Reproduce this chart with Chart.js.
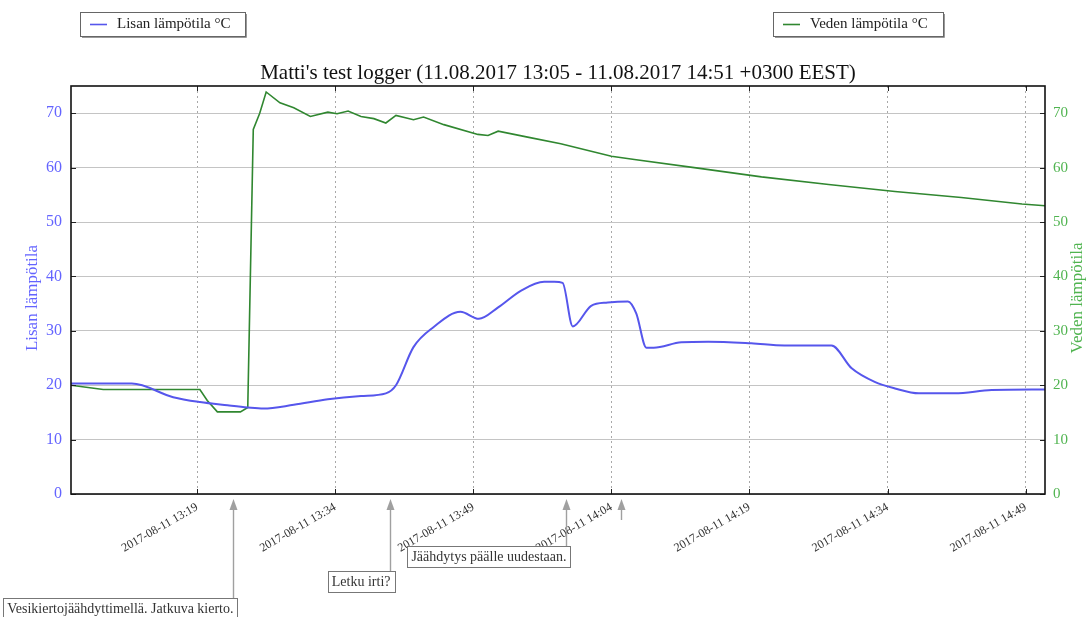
<!DOCTYPE html>
<html>
<head>
<meta charset="utf-8">
<title>Matti's test logger</title>
<script src="https://cdn.jsdelivr.net/npm/chart.js@4.4.1/dist/chart.umd.min.js"></script>
<style>
  html, body { margin: 0; padding: 0; background: #ffffff; }
  #wrap { width: 1089px; height: 617px; position: relative; }
</style>
</head>
<body>
<div id="wrap"><canvas id="chart" width="1089" height="617"></canvas></div>
<script>
// Time values are minutes after 13:00 on 2017-08-11.
const lisaMinutes = [5.3, 11.9, 16.4, 19.3, 22.3, 24.5, 26.2, 29.5, 33.2, 36.8, 39.5, 40.6, 42.5, 44.7, 47.6, 49.6, 51.7, 54.2, 56.7, 57.8, 58.7, 59.8, 61.8, 63.6, 65.8, 66.7, 67.8, 68.6, 71.6, 74.5, 79.2, 82.8, 87.9, 90.1, 92.6, 94.8, 97.4, 101.3, 105.3, 111.1];
const lisaTemps   = [20.3, 20.3, 17.8, 16.9, 16.3, 15.9, 15.7, 16.4, 17.4, 18.0, 18.5, 20.0, 27.0, 30.7, 33.5, 32.2, 34.3, 37.4, 39.0, 39.0, 38.8, 30.8, 34.6, 35.2, 35.4, 33.2, 26.9, 26.9, 27.9, 28.0, 27.7, 27.3, 27.3, 23.1, 20.6, 19.4, 18.5, 18.5, 19.1, 19.2];

const vesiMinutes = [5.3, 8.8, 19.3, 20.1, 21.2, 23.7, 24.5, 25.1, 25.8, 26.5, 28.0, 29.5, 31.3, 33.2, 34.2, 35.4, 36.8, 38.2, 39.5, 40.6, 42.5, 43.6, 45.8, 49.5, 50.6, 51.7, 54.9, 58.5, 64.0, 66.5, 73.0, 80.3, 87.6, 94.8, 102.0, 108.6, 111.1];
const vesiTemps   = [20.0, 19.2, 19.2, 17.2, 15.1, 15.1, 15.9, 67.0, 70.0, 73.9, 71.9, 71.0, 69.4, 70.2, 69.9, 70.4, 69.4, 69.0, 68.2, 69.6, 68.8, 69.3, 67.9, 66.1, 65.9, 66.7, 65.6, 64.4, 62.1, 61.5, 60.0, 58.3, 56.9, 55.6, 54.5, 53.3, 53.0];

const xTickMinutes = [19, 34, 49, 64, 79, 94, 109];
const xTickLabels  = ['2017-08-11 13:19', '2017-08-11 13:34', '2017-08-11 13:49', '2017-08-11 14:04', '2017-08-11 14:19', '2017-08-11 14:34', '2017-08-11 14:49'];
const yTickValues  = [0, 10, 20, 30, 40, 50, 60, 70];

// Notes written under the time axis, with an arrow up to the moment they refer to.
const noteMinutes = [22.9, 40.0, 59.05, 65.0];
const noteTexts   = ['Vesikiertojäähdyttimellä. Jatkuva kierto.', 'Letku irti?', 'Jäähdytys päälle uudestaan.', ''];

const titleText = "Matti's test logger (11.08.2017 13:05 - 11.08.2017 14:51 +0300 EEST)";

const SERIF = "'Liberation Serif', 'DejaVu Serif', serif";
const BLUE = 'rgb(86, 86, 236)';
const GREEN = 'rgb(48, 135, 48)';
const BLUE_TEXT = 'rgb(100, 100, 255)';
const GREEN_TEXT = 'rgb(80, 180, 80)';

function toPoints(xs, ys) {
  return xs.map((x, i) => ({ x: x, y: ys[i] }));
}

const decorations = {
  id: 'decorations',
  afterDatasetsDraw(chart) {
    const { ctx, chartArea: a, scales } = chart;
    ctx.save();
    // inward tick marks on all four sides
    ctx.strokeStyle = '#222';
    ctx.lineWidth = 1;
    ctx.beginPath();
    scales.x.ticks.forEach(t => {
      const px = Math.round(scales.x.getPixelForValue(t.value)) + 0.5;
      ctx.moveTo(px, a.bottom); ctx.lineTo(px, a.bottom - 5);
      ctx.moveTo(px, a.top); ctx.lineTo(px, a.top + 5);
    });
    scales.y.ticks.forEach(t => {
      const py = Math.round(scales.y.getPixelForValue(t.value)) + 0.5;
      ctx.moveTo(a.left, py); ctx.lineTo(a.left + 5, py);
      ctx.moveTo(a.right, py); ctx.lineTo(a.right - 5, py);
    });
    ctx.stroke();
    // frame
    ctx.strokeStyle = '#111';
    ctx.lineWidth = 1.6;
    ctx.strokeRect(a.left, a.top, a.right - a.left, a.bottom - a.top);
    ctx.restore();
  },
  afterDraw(chart, args, opts) {
    const { ctx, chartArea: a, scales } = chart;
    ctx.save();

    // title
    ctx.fillStyle = '#111';
    ctx.font = '21px ' + SERIF;
    ctx.textAlign = 'center';
    ctx.textBaseline = 'alphabetic';
    ctx.fillText(titleText, (a.left + a.right) / 2, a.top - 7);

    // axis titles, both reading bottom to top
    ctx.font = '17px ' + SERIF;
    const midY = (a.top + a.bottom) / 2 + 8;
    [[opts.leftTitleX, chart.data.datasets[0].axisTitle, BLUE_TEXT],
     [opts.rightTitleX, chart.data.datasets[1].axisTitle, GREEN_TEXT]].forEach(([x, txt, col]) => {
      ctx.save();
      ctx.translate(x, midY);
      ctx.rotate(-Math.PI / 2);
      ctx.fillStyle = col;
      ctx.textAlign = 'center';
      ctx.textBaseline = 'middle';
      ctx.fillText(txt, 0, 0);
      ctx.restore();
    });

    // one legend box per series
    ctx.font = '15px ' + SERIF;
    ctx.textBaseline = 'middle';
    ctx.textAlign = 'left';
    chart.data.datasets.forEach((ds, i) => {
      const box = opts.legendBoxes[i];
      ctx.fillStyle = '#fff';
      ctx.fillRect(box.x, box.y, box.w, box.h);
      ctx.strokeStyle = '#666';
      ctx.lineWidth = 1;
      ctx.strokeRect(box.x + 0.5, box.y + 0.5, box.w, box.h);
      ctx.strokeStyle = '#999';
      ctx.beginPath();
      ctx.moveTo(box.x + 2, box.y + box.h + 1.5); ctx.lineTo(box.x + box.w + 1.5, box.y + box.h + 1.5);
      ctx.lineTo(box.x + box.w + 1.5, box.y + 2);
      ctx.stroke();
      const cy = box.y + box.h / 2 + 0.5;
      ctx.strokeStyle = ds.borderColor;
      ctx.lineWidth = 1.6;
      ctx.beginPath();
      ctx.moveTo(box.x + 10, cy); ctx.lineTo(box.x + 27, cy);
      ctx.stroke();
      ctx.fillStyle = '#222';
      ctx.fillText(ds.label, box.x + 37, cy);
    });

    // notes below the time axis
    ctx.font = '14px ' + SERIF;
    noteMinutes.forEach((m, i) => {
      const px = Math.round(scales.x.getPixelForValue(m)) + 0.5;
      const tipY = a.bottom + 5;
      const tailY = a.bottom + opts.noteDrops[i];
      ctx.strokeStyle = '#a0a0a0';
      ctx.fillStyle = '#a0a0a0';
      ctx.lineWidth = 1.4;
      ctx.beginPath();
      ctx.moveTo(px, tipY + 8); ctx.lineTo(px, tailY);
      ctx.stroke();
      ctx.beginPath();
      ctx.moveTo(px, tipY); ctx.lineTo(px - 4, tipY + 11); ctx.lineTo(px + 4, tipY + 11);
      ctx.closePath();
      ctx.fill();
      const txt = noteTexts[i];
      if (!txt) return;
      const w = ctx.measureText(txt).width;
      const right = px + 4;
      const bx = right - w - 8, by = tailY, bh = 21;
      ctx.fillStyle = '#fff';
      ctx.fillRect(bx, by, w + 8, bh);
      ctx.strokeStyle = '#777';
      ctx.lineWidth = 1;
      ctx.strokeRect(Math.round(bx) + 0.5, by + 0.5, Math.round(w + 8), bh);
      ctx.fillStyle = '#333';
      ctx.textAlign = 'right';
      ctx.textBaseline = 'middle';
      ctx.fillText(txt, right - 4, by + bh / 2 + 1);
    });
    ctx.restore();
  }
};

new Chart(document.getElementById('chart'), {
  type: 'line',
  data: {
    datasets: [
      {
        label: 'Lisan lämpötila °C',
        axisTitle: 'Lisan lämpötila',
        data: toPoints(lisaMinutes, lisaTemps),
        yAxisID: 'y',
        borderColor: BLUE,
        borderWidth: 2,
        pointRadius: 0,
        cubicInterpolationMode: 'monotone',
        fill: false
      },
      {
        label: 'Veden lämpötila °C',
        axisTitle: 'Veden lämpötila',
        data: toPoints(vesiMinutes, vesiTemps),
        yAxisID: 'y2',
        borderColor: GREEN,
        borderWidth: 1.6,
        pointRadius: 0,
        tension: 0,
        fill: false
      }
    ]
  },
  options: {
    responsive: false,
    animation: false,
    devicePixelRatio: 1,
    layout: { padding: { top: 86, left: 0, right: 0, bottom: 0 } },
    plugins: {
      legend: { display: false },
      title: { display: false },
      tooltip: { enabled: false },
      decorations: {
        leftTitleX: 33,
        rightTitleX: 1078,
        legendBoxes: [
          { x: 80, y: 12, w: 165, h: 24 },
          { x: 773, y: 12, w: 170, h: 24 }
        ],
        noteDrops: [104, 77, 52, 26]
      }
    },
    scales: {
      x: {
        type: 'linear',
        min: 5.3,
        max: 111.1,
        afterBuildTicks: s => { s.ticks = xTickMinutes.map(v => ({ value: v })); },
        afterFit: s => { s.height = 123; },
        border: { display: false, dash: [2, 3] },
        grid: { color: '#a8a8a8', drawTicks: false },
        ticks: {
          autoSkip: false,
          minRotation: 30,
          maxRotation: 30,
          padding: 6,
          color: '#333',
          font: { family: SERIF, size: 12 },
          callback: (v, i) => xTickLabels[i]
        }
      },
      y: {
        position: 'left',
        min: 0,
        max: 75,
        afterBuildTicks: s => { s.ticks = yTickValues.map(v => ({ value: v })); },
        afterFit: s => { s.width = 71; },
        border: { display: false },
        grid: { color: '#c4c4c4', drawTicks: false },
        ticks: { padding: 9, color: BLUE_TEXT, font: { family: SERIF, size: 16 } }
      },
      y2: {
        position: 'right',
        min: 0,
        max: 75,
        afterBuildTicks: s => { s.ticks = yTickValues.map(v => ({ value: v })); },
        afterFit: s => { s.width = 44; },
        border: { display: false },
        grid: { display: false, drawTicks: false },
        ticks: { padding: 8, color: GREEN_TEXT, font: { family: SERIF, size: 15 } }
      }
    }
  },
  plugins: [decorations]
});
</script>
</body>
</html>
